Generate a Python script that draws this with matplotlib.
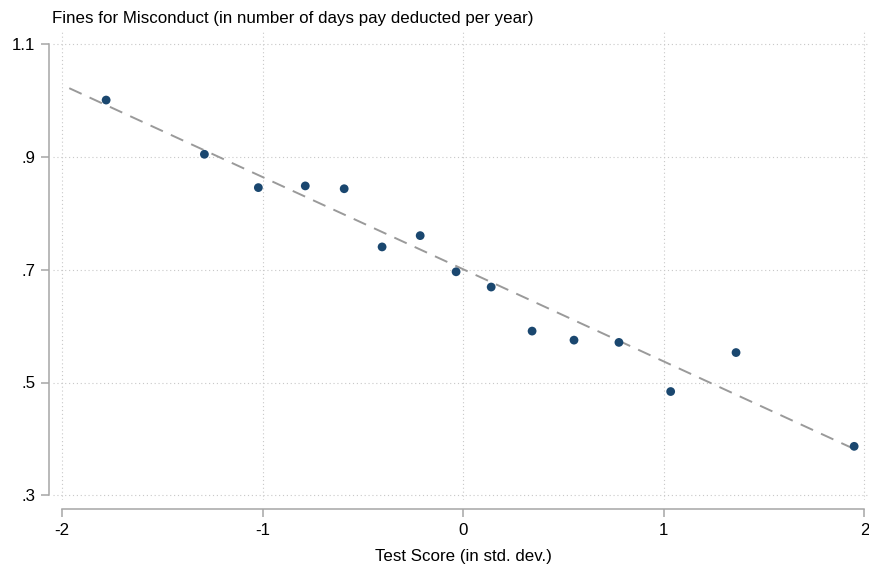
import matplotlib
matplotlib.use('Agg')
import matplotlib.pyplot as plt

plt.rcParams['font.family'] = ['Liberation Sans', 'DejaVu Sans']

# binned scatter points (test score in std. dev., fines)
score = [-1.781, -1.291, -1.022, -0.788, -0.594, -0.405, -0.215, -0.036,
         0.139, 0.343, 0.552, 0.776, 1.034, 1.360, 1.949]
fines = [1.000, 0.904, 0.845, 0.848, 0.843, 0.740, 0.760, 0.696,
         0.669, 0.591, 0.575, 0.571, 0.484, 0.553, 0.387]

# fitted line end points
fit_x = [-1.965, 1.945]
fit_y = [1.021, 0.383]

xticks = [-2, -1, 0, 1, 2]
yticks = [0.3, 0.5, 0.7, 0.9, 1.1]
ytick_labels = ['.3', '.5', '.7', '.9', '1.1']

W, H = 870, 565
fig = plt.figure(figsize=(W / 100, H / 100), dpi=100)
ax = fig.add_axes([53 / W, 65 / H, (868 - 53) / W, (500 - 30) / H])

ax.plot(fit_x, fit_y, color='#9a9a9a', lw=1.4, dashes=(7, 4.5), zorder=2)
ax.scatter(score, fines, s=40, color='#1a476f', edgecolors='none', zorder=3)

ax.set_xlim(-2.046, 2.018)
ax.set_ylim(0.292, 1.124)
ax.set_xticks(xticks)
ax.set_xticklabels([str(t) for t in xticks])
ax.set_yticks(yticks)
ax.set_yticklabels(ytick_labels)

ax.grid(True, color='#c8c8c8', linestyle=(0, (1, 2.5)), linewidth=0.8)
ax.set_axisbelow(True)

for s in ['top', 'right']:
    ax.spines[s].set_visible(False)
ax.spines['left'].set_position(('outward', 2.7))
ax.spines['bottom'].set_position(('outward', 6.3))
ax.spines['left'].set_bounds(0.3, 1.1)
ax.spines['bottom'].set_bounds(-2, 2)
for s in ['left', 'bottom']:
    ax.spines[s].set_color('#a6a6a6')
    ax.spines[s].set_linewidth(1.1)
ax.tick_params(length=6, width=1.1, color='#a6a6a6', labelsize=12.2, pad=4)

fig.text(52 / W, (H - 22.5) / H, 'Fines for Misconduct (in number of days pay deducted per year)',
         fontsize=12.2, va='baseline', ha='left')
fig.text(463 / W, (H - 561) / H, 'Test Score (in std. dev.)',
         fontsize=12.2, va='baseline', ha='center')

fig.savefig('out.png', dpi=100)
